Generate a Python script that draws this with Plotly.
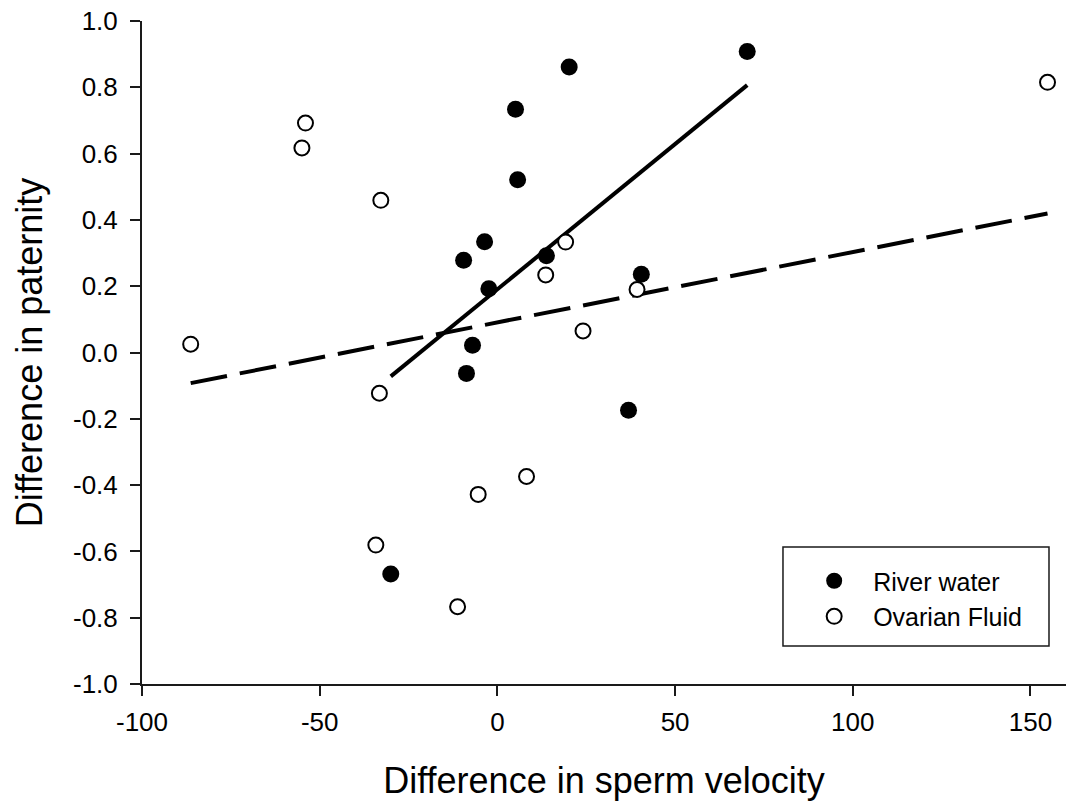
import plotly.graph_objects as go

# ---- data ----
river_x = [-30.0, -8.7, -7.0, -9.5, -3.6, -2.4, 5.1, 5.7, 13.8, 20.2, 36.9, 40.5, 70.3]
river_y = [-0.668, -0.063, 0.022, 0.278, 0.334, 0.192, 0.734, 0.521, 0.292, 0.861, -0.174, 0.236, 0.908]

ovarian_x = [-86.3, -54.0, -55.0, -32.8, -33.2, -34.2, -11.2, -5.4, 8.2, 13.6, 19.2, 24.1, 39.3, 154.8]
ovarian_y = [0.025, 0.692, 0.617, 0.459, -0.123, -0.581, -0.767, -0.428, -0.374, 0.234, 0.333, 0.065, 0.190, 0.815]

# regression fits (intercept, slope) as drawn in the reference
river_fit = (0.1907, 0.008759)
ovarian_fit = (0.0908, 0.002122)

x_ticks = [-100, -50, 0, 50, 100, 150]
x_ticklabels = ["-100", "-50", "0", "50", "100", "150"]
y_ticks = [-1.0, -0.8, -0.6, -0.4, -0.2, 0.0, 0.2, 0.4, 0.6, 0.8, 1.0]
y_ticklabels = ["-1.0", "-0.8", "-0.6", "-0.4", "-0.2", "0.0", "0.2", "0.4", "0.6", "0.8", "1.0"]

FONT = "Liberation Sans, Arial, sans-serif"


def fit_line(xs, fit):
    a, b = fit
    x0, x1 = min(xs), max(xs)
    return [x0, x1], [a + b * x0, a + b * x1]


fig = go.Figure()

rx, ry = fit_line(river_x, river_fit)
fig.add_trace(go.Scatter(x=rx, y=ry, mode="lines", showlegend=False,
                         line=dict(color="black", width=4), hoverinfo="skip"))
ox, oy = fit_line(ovarian_x, ovarian_fit)
fig.add_trace(go.Scatter(x=ox, y=oy, mode="lines", showlegend=False,
                         line=dict(color="black", width=4, dash="37px,13px"), hoverinfo="skip"))

fig.add_trace(go.Scatter(x=river_x, y=river_y, mode="markers", name="River water",
                         marker=dict(symbol="circle", size=17, color="black",
                                     line=dict(width=0))))
fig.add_trace(go.Scatter(x=ovarian_x, y=ovarian_y, mode="markers", name="Ovarian Fluid",
                         marker=dict(symbol="circle", size=15, color="white",
                                     line=dict(width=2, color="black"))))

axis_common = dict(
    showgrid=False, zeroline=False, showline=True, linecolor="#1a1a1a", linewidth=2,
    ticks="outside", ticklen=10, tickwidth=2, tickcolor="#1a1a1a",
    tickfont=dict(family=FONT, size=26, color="black"),
)

fig.update_layout(
    width=1067, height=804,
    margin=dict(l=142, r=1, t=21, b=120),
    paper_bgcolor="white", plot_bgcolor="white",
    font=dict(family=FONT, color="black"),
    xaxis=dict(range=[-100, 160], tickvals=x_ticks, ticktext=x_ticklabels,
               ticklabelstandoff=4,
               title=dict(text="Difference in sperm velocity",
                          font=dict(family=FONT, size=36, color="black"), standoff=32),
               **axis_common),
    yaxis=dict(range=[-1.0, 1.0], tickvals=y_ticks, ticktext=y_ticklabels,
               ticklabelstandoff=7,
               title=dict(text="Difference in paternity",
                          font=dict(family=FONT, size=36, color="black"), standoff=19),
               **axis_common),
    legend=dict(x=0.7069, y=0.19, xanchor="left", yanchor="top",
                bgcolor="rgba(0,0,0,0)", borderwidth=0,
                font=dict(family=FONT, size=25, color="black"),
                itemwidth=68, tracegroupgap=0),
    shapes=[dict(type="rect", xref="paper", yref="paper",
                 x0=0.6937, x1=0.9816, y0=0.0573, y1=0.2066,
                 line=dict(color="#1a1a1a", width=1.5), fillcolor="rgba(0,0,0,0)")],
    showlegend=True,
)

fig.write_html("out.html")
